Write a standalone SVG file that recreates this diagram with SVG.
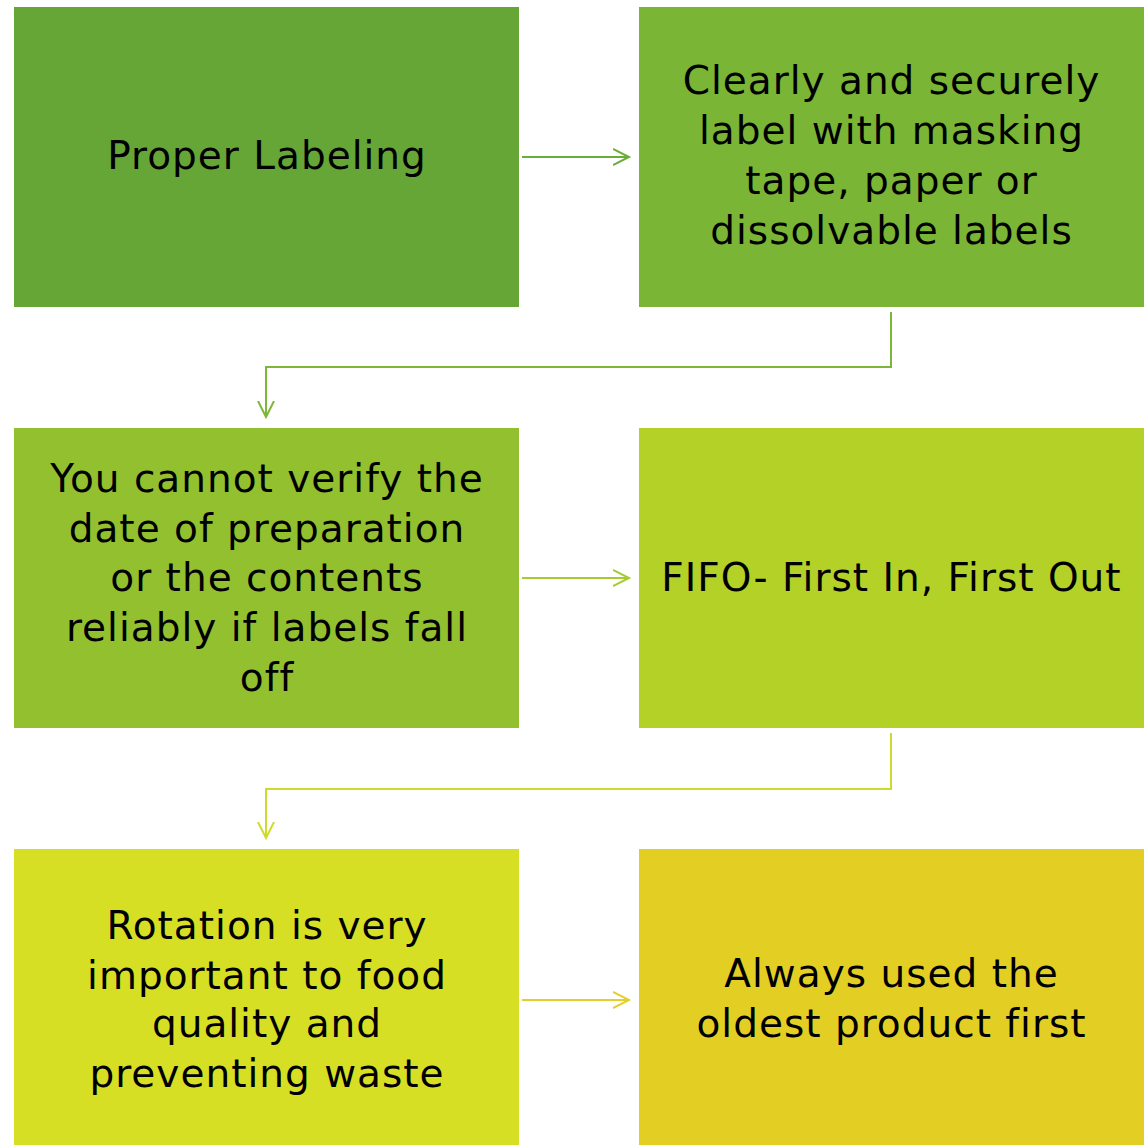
<svg xmlns="http://www.w3.org/2000/svg" width="1144" height="1145" viewBox="0 0 1144 1145">
<defs>
<style>
.t{font-family:"DejaVu Sans","Liberation Sans",sans-serif;font-size:39px;fill:#000;text-anchor:middle;letter-spacing:1px}
.c{fill:none;stroke-width:2}
</style>
<marker id="a1" markerWidth="20" markerHeight="20" refX="16" refY="10" orient="auto" markerUnits="userSpaceOnUse"><path d="M0,2 L16,10 L0,18" fill="none" stroke="#6aae3a" stroke-width="2"/></marker>
<marker id="a2" markerWidth="20" markerHeight="20" refX="16" refY="10" orient="auto" markerUnits="userSpaceOnUse"><path d="M0,2 L16,10 L0,18" fill="none" stroke="#7db73a" stroke-width="2"/></marker>
<marker id="a3" markerWidth="20" markerHeight="20" refX="16" refY="10" orient="auto" markerUnits="userSpaceOnUse"><path d="M0,2 L16,10 L0,18" fill="none" stroke="#a4cc30" stroke-width="2"/></marker>
<marker id="a4" markerWidth="20" markerHeight="20" refX="16" refY="10" orient="auto" markerUnits="userSpaceOnUse"><path d="M0,2 L16,10 L0,18" fill="none" stroke="#cfdb2c" stroke-width="2"/></marker>
<marker id="a5" markerWidth="20" markerHeight="20" refX="16" refY="10" orient="auto" markerUnits="userSpaceOnUse"><path d="M0,2 L16,10 L0,18" fill="none" stroke="#e2d12a" stroke-width="2"/></marker>
</defs>
<rect width="1144" height="1145" fill="#fff"/>
<g id="n1"><rect x="14" y="7" width="505" height="300" fill="#65a637"/>
<text class="t" x="267" y="169">Proper Labeling</text></g>
<g id="n2"><rect x="639" y="7" width="505" height="300" fill="#7ab536"/>
<text class="t" x="891.5" y="94">Clearly and securely</text>
<text class="t" x="891.5" y="144">label with masking</text>
<text class="t" x="891.5" y="194">tape, paper or</text>
<text class="t" x="891.5" y="244">dissolvable labels</text></g>
<g id="n3"><rect x="14" y="428" width="505" height="300" fill="#93c02e"/>
<text class="t" x="267" y="492">You cannot verify the</text>
<text class="t" x="267" y="542">date of preparation</text>
<text class="t" x="267" y="591">or the contents</text>
<text class="t" x="267" y="641">reliably if labels fall</text>
<text class="t" x="267" y="691">off</text></g>
<g id="n4"><rect x="639" y="428" width="505" height="300" fill="#b3d127"/>
<text class="t" x="891.5" y="591">FIFO- First In, First Out</text></g>
<g id="n5"><rect x="14" y="849" width="505" height="296" fill="#d6df23"/>
<text class="t" x="267" y="939">Rotation is very</text>
<text class="t" x="267" y="989">important to food</text>
<text class="t" x="267" y="1037">quality and</text>
<text class="t" x="267" y="1087">preventing waste</text></g>
<g id="n6"><rect x="639" y="849" width="505" height="296" fill="#e3cf24"/>
<text class="t" x="891.5" y="987">Always used the</text>
<text class="t" x="891.5" y="1037">oldest product first</text></g>
<g id="connectors">
<path class="c" d="M522,157 H629" stroke="#6aae3a" marker-end="url(#a1)"/>
<path class="c" d="M891,312 V367 H266 V417" stroke="#7db73a" marker-end="url(#a2)"/>
<path class="c" d="M522,578 H629" stroke="#a4cc30" marker-end="url(#a3)"/>
<path class="c" d="M891,733 V789 H266 V838" stroke="#cfdb2c" marker-end="url(#a4)"/>
<path class="c" d="M522,1000 H629" stroke="#e2d12a" marker-end="url(#a5)"/>
</g>
</svg>
